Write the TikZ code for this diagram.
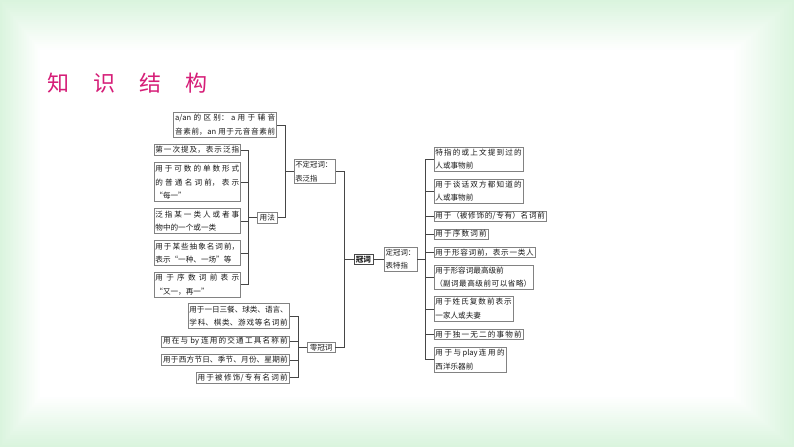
\documentclass[tikz,border=0pt]{standalone}
\usepackage{fontspec}
\newfontfamily\cjk{Noto Sans CJK SC}
\XeTeXlinebreaklocale "zh"
\XeTeXlinebreakskip=0pt plus 3pt minus 0.4pt
\definecolor{bgg}{RGB}{218,244,222}
\definecolor{ttl}{RGB}{214,30,120}
\definecolor{ln}{RGB}{70,70,70}
\definecolor{bd}{RGB}{130,130,130}
\newcommand\fullline{\parfillskip=0pt\relax}
\hbadness=10000 \hfuzz=5pt
\begin{document}
\begin{tikzpicture}[x=1pt,y=-1pt,
  bx/.style={draw=bd, line width=0.6pt, inner xsep=1.5pt, inner ysep=0pt, anchor=north west,
    align=justify, font=\cjk\fontsize{7.6}{13.5}\selectfont, text=black!90},
  lb/.style={draw=bd, line width=0.6pt, inner sep=0pt, anchor=north west, align=center,
    font=\cjk\fontsize{7.6}{13.5}\selectfont, text=black!90},
  wire/.style={draw=ln, line width=0.6pt}]
\useasboundingbox (0,0) rectangle (794,447);
% background vignette
\foreach \i [evaluate=\i as \t using 4*\i] in {0,...,25}
  \fill[white!\t!bgg] (1.6*\i,2*\i) rectangle (794-2.4*\i,447-2*\i);
% title
\node[anchor=west, inner sep=0pt, text=ttl, font=\cjk\fontsize{22}{22}\selectfont] (title) at (47,83)
  {知\hspace{24pt}识\hspace{24pt}结\hspace{24pt}构};
% bus coordinates
\coordinate (xL) at (248.5,0);
\coordinate (xA) at (285,0);
\coordinate (xB) at (344,0);
\coordinate (xC) at (425,0);
\coordinate (xD) at (298,0);
% left boxes
\node[bx, text width=100pt, minimum height=24.4pt] (aan) at (173.4,112.3)
  {\fullline \mbox{a/an} 的区别：a 用于辅音\linebreak 音素前，an 用于元音音素前\par};
\node[bx, text width=83.8pt, minimum height=10.7pt] (l1) at (153.6,144.3)
  {\fullline 第一次提及，表示泛指\par};
\node[bx, text width=83.8pt, minimum height=39pt] (l2) at (153.6,162.3)
  {用于可数的单数形式\linebreak 的普通名词前，表示\linebreak “每一”};
\node[bx, text width=83.8pt, minimum height=25.3pt] (l3) at (153.6,208)
  {泛指某一类人或者事\linebreak 物中的一个或一类};
\node[bx, text width=83.8pt, minimum height=25.3pt] (l4) at (153.6,240)
  {用于某些抽象名词前，\linebreak 表示“一种、一场”等};
\node[bx, text width=83.8pt, minimum height=24.7pt] (l5) at (153.6,272)
  {用于序数词前表示\linebreak “又一，再一”};
\node[lb, minimum width=20pt, minimum height=10.7pt] (yf) at (257,212) {用法};
\node[bx, inner xsep=1pt, text width=39pt, minimum height=24.3pt, font=\cjk\fontsize{7.4}{13.5}\selectfont] (bd) at (294,159)
  {不定冠词：\newline 表泛指};
\node[lb, minimum width=19.2pt, minimum height=10pt, font=\cjk\bfseries\fontsize{7.6}{13.5}\selectfont, draw=ln] (gc) at (353.5,254) {冠词};
\node[bx, inner xsep=1pt, text width=30.4pt, minimum height=24.3pt, font=\cjk\fontsize{7.4}{13.5}\selectfont] (dd) at (384.4,246.7)
  {定冠词：\newline 表特指};
\node[lb, minimum width=27.7pt, minimum height=10pt] (lg) at (307,342) {零冠词};
% zero article children
\node[bx, text width=98.4pt, minimum height=25pt] (b1) at (187.6,303.3)
  {\fullline 用于一日三餐、球类、语言、\linebreak 学科、棋类、游戏等名词前\par};
\node[bx, text width=124.7pt, minimum height=10.7pt] (b2) at (161.3,336)
  {\fullline 用在与 by 连用的交通工具名称前\par};
\node[bx, text width=124.7pt, minimum height=11pt] (b3) at (161.3,354)
  {\fullline 用于西方节日、季节、月份、星期前\par};
\node[bx, text width=90.3pt, minimum height=10.7pt] (b4) at (195.7,372)
  {\fullline 用于被修饰/专有名词前\par};
% right boxes
\node[bx, text width=86.2pt, minimum height=24.6pt] (r1) at (433.6,146.7)
  {特指的或上文提到过的\linebreak 人或事物前};
\node[bx, text width=86.2pt, minimum height=24.6pt] (r2) at (433.6,178.7)
  {用于谈话双方都知道的\linebreak 人或事物前};
\node[bx, text width=109.6pt, minimum height=10pt] (r3) at (433.6,210.7)
  {\fullline 用于（被修饰的/专有）名词前\par};
\node[bx, text width=51.2pt, minimum height=10pt] (r4) at (433.6,228.7)
  {\fullline 用于序数词前\par};
\node[bx, text width=98.4pt, minimum height=10.6pt] (r5) at (433.6,246.7)
  {\fullline 用于形容词前，表示一类人\par};
\node[bx, text width=95.9pt, minimum height=24.6pt] (r6) at (433.6,264.7)
  {\fullline 用于形容词最高级前\newline （副词最高级前可以省略）\par};
\node[bx, text width=76.4pt, minimum height=25pt] (r7) at (433.6,296)
  {用于姓氏复数前表示\linebreak 一家人或夫妻};
\node[bx, text width=86.2pt, minimum height=10.6pt] (r8) at (433.6,328.7)
  {\fullline 用于独一无二的事物前\par};
\node[bx, text width=69.4pt, minimum height=25pt] (r9) at (433.6,346.7)
  {用于与\,play\,连用的\linebreak 西洋乐器前};
% connectors: left column
\draw[wire] (l1.east) -- (l1.east -| xL) -- (l5.east -| xL) -- (l5.east);
\foreach \n in {l2,l3,l4} \draw[wire] (\n.east) -- (\n.east -| xL);
\draw[wire] (yf.west) -- (yf.west -| xL);
% bus A
\draw[wire] (aan.east) -- (aan.east -| xA) -- (yf.east -| xA) -- (yf.east);
\draw[wire] (bd.west) -- (bd.west -| xA);
% bus B
\draw[wire] (bd.east) -- (bd.east -| xB) -- (lg.east -| xB) -- (lg.east);
\draw[wire] (gc.west) -- (gc.west -| xB);
% article -> definite
\draw[wire] (gc.east) -- (gc.east -| dd.west);
% bus C
\draw[wire] (dd.east) -- (dd.east -| xC);
\draw[wire] (r1.west) -- (r1.west -| xC) -- (r9.west -| xC) -- (r9.west);
\foreach \n in {r2,r3,r4,r5,r6,r7,r8} \draw[wire] (\n.west) -- (\n.west -| xC);
% bus D
\draw[wire] (b1.east) -- (b1.east -| xD) -- (b4.east -| xD) -- (b4.east);
\foreach \n in {b2,b3} \draw[wire] (\n.east) -- (\n.east -| xD);
\draw[wire] (lg.west) -- (lg.west -| xD);
\end{tikzpicture}
\end{document}
